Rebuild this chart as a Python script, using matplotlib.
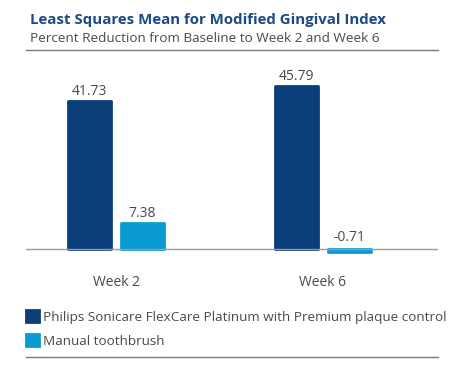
import numpy as np
import matplotlib.pyplot as plt
from matplotlib.lines import Line2D

weeks = ["Week 2", "Week 6"]
philips = [41.73, 45.79]
manual = [7.38, -0.71]
series_names = ["Philips Sonicare FlexCare Platinum with Premium plaque control",
                "Manual toothbrush"]

dark_blue = "#0b3f7a"
light_blue = "#0a9bd2"
text_grey = "#4a4a4a"

plt.rcParams['font.family'] = ['Open Sans', 'DejaVu Sans']

W, H = 462, 376
fig = plt.figure(figsize=(W / 100, H / 100), dpi=100)

# axes placed in pixel terms: x 26..438, y 60..260
ax = fig.add_axes([26 / W, (H - 260) / H, (438 - 26) / W, 200 / H])

x = np.arange(len(weeks))
width = 0.208
offset = 0.128
b1 = ax.bar(x - offset, philips, width, color=dark_blue, edgecolor=dark_blue,
            linewidth=2, joinstyle='round', label=series_names[0])
b2 = ax.bar(x + offset, manual, width, color=light_blue, edgecolor=light_blue,
            linewidth=2, joinstyle='round', label=series_names[1])

for bars, vals in [(b1, philips), (b2, manual)]:
    for rect, v in zip(bars, vals):
        y = max(v, 0)
        ax.annotate(f"{v:.2f}", (rect.get_x() + rect.get_width() / 2, y),
                    xytext=(0, 1.5 if v >= 0 else 3), textcoords="offset points",
                    ha="center", va="bottom", fontsize=10, color=text_grey)

ax.axhline(0, color="#9a9a9a", linewidth=1)
ax.set_xlim(-0.435, 1.556)
ax.set_ylim(-3.1, 53.2)
ax.set_xticks(x)
ax.set_xticklabels(weeks, fontsize=10, color=text_grey)
ax.tick_params(axis='x', length=0, pad=11)
ax.set_yticks([])
for s in ax.spines.values():
    s.set_visible(False)

# title block
fig.text(30 / W, 1 - 20 / H, "Least Squares Mean for Modified Gingival Index",
         fontsize=10.8, fontweight="bold", color="#1b4a85", va="center")
fig.text(30 / W, 1 - 39 / H, "Percent Reduction from Baseline to Week 2 and Week 6",
         fontsize=9.7, color=text_grey, va="center")
fig.add_artist(Line2D([26 / W, 438 / W], [1 - 50 / H, 1 - 50 / H],
                      color="#7a7a7a", linewidth=1))

# legend
fig.legend(handles=[b1, b2], loc="upper left",
           bbox_to_anchor=(21 / W, 1 - 305 / H), frameon=False,
           fontsize=9.7, handlelength=0.9, handleheight=1.0, handletextpad=0.35,
           labelspacing=0.75, borderaxespad=0, labelcolor=text_grey)
fig.add_artist(Line2D([26 / W, 438 / W], [1 - 357 / H, 1 - 357 / H],
                      color="#7a7a7a", linewidth=1))

fig.savefig("out.png", dpi=100)
